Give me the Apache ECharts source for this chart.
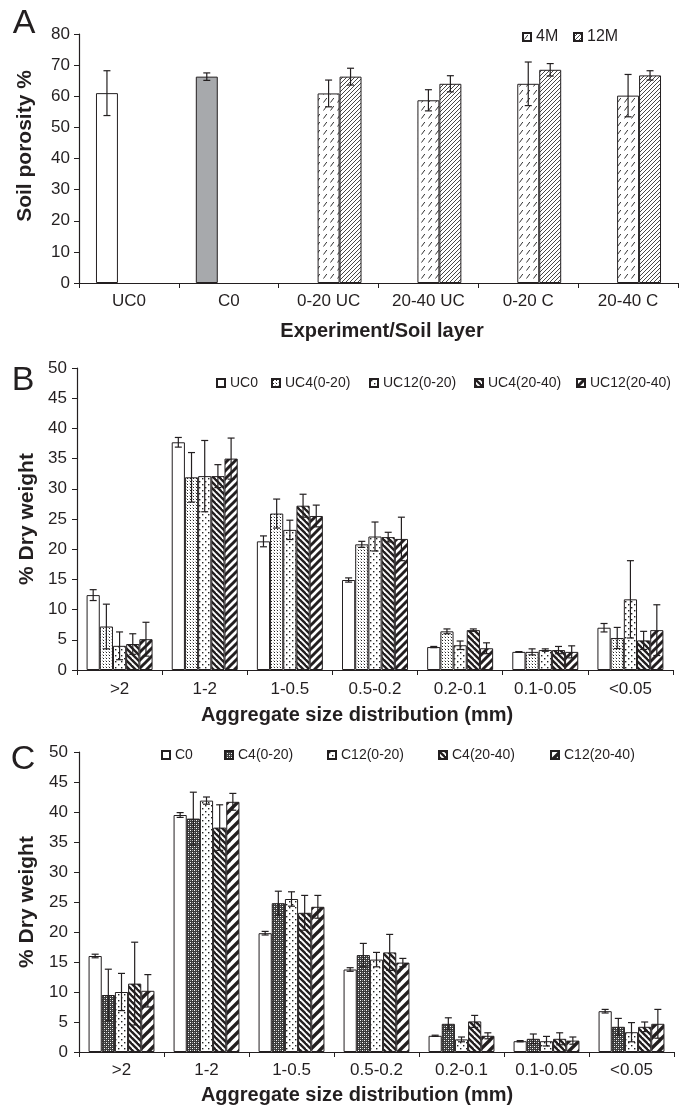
<!DOCTYPE html>
<html><head><meta charset="utf-8">
<script src="https://cdn.jsdelivr.net/npm/echarts@6/dist/echarts.min.js"></script>
<style>html,body{margin:0;padding:0;background:#fff}#c{width:686px;height:1108px}</style>
</head><body><div id="c"></div>
<script>
// ---------- DATA ----------
const catsA = ['UC0', 'C0', '0-20 UC', '20-40 UC', '0-20 C', '20-40 C'];
const baseA = [61.0, 66.3, null, null, null, null];
const baseErrA = [7.2, 1.2, null, null, null, null];
const m4A = [null, null, 60.9, 58.7, 64.0, 60.2];
const m4ErrA = [null, null, 4.3, 3.4, 7.0, 6.8];
const m12A = [null, null, 66.3, 64.0, 68.5, 66.7];
const m12ErrA = [null, null, 2.7, 2.6, 2.0, 1.5];
const ticksA = [0, 10, 20, 30, 40, 50, 60, 70, 80];

const catsSize = ['>2', '1-2', '1-0.5', '0.5-0.2', '0.2-0.1', '0.1-0.05', '<0.05'];
const ticksBC = [0, 5, 10, 15, 20, 25, 30, 35, 40, 45, 50];

const namesB = ['UC0', 'UC4(0-20)', 'UC12(0-20)', 'UC4(20-40)', 'UC12(20-40)'];
const uc0 = [12.4, 37.7, 21.3, 14.9, 3.8, 3.0, 7.0];
const uc0Err = [0.9, 0.8, 0.9, 0.35, 0.1, 0.05, 0.7];
const uc4a = [7.2, 31.9, 25.9, 20.8, 6.4, 3.0, 5.3];
const uc4aErr = [3.7, 4.1, 2.4, 0.5, 0.4, 0.5, 1.75];
const uc12a = [4.0, 32.1, 23.2, 22.1, 4.1, 3.3, 11.7];
const uc12aErr = [2.3, 5.9, 1.6, 2.4, 0.7, 0.2, 6.4];
const uc4b = [4.3, 32.1, 27.2, 22.0, 6.6, 3.3, 4.9];
const uc4bErr = [1.7, 1.9, 1.9, 0.8, 0.2, 0.6, 1.5];
const uc12b = [5.1, 35.0, 25.5, 21.7, 3.6, 3.0, 6.6];
const uc12bErr = [2.8, 3.4, 1.8, 3.6, 0.9, 1.0, 4.2];

const namesC = ['C0', 'C4(0-20)', 'C12(0-20)', 'C4(20-40)', 'C12(20-40)'];
const c0 = [16.0, 39.5, 19.8, 13.75, 2.7, 1.8, 6.8];
const c0Err = [0.3, 0.4, 0.3, 0.3, 0.1, 0.1, 0.3];
const c4a = [9.5, 38.9, 24.8, 16.15, 4.7, 2.2, 4.2];
const c4aErr = [4.3, 4.4, 2.0, 1.95, 1.0, 0.8, 1.4];
const c12a = [10.0, 41.9, 25.5, 15.4, 2.1, 1.8, 3.3];
const c12aErr = [3.1, 0.6, 1.2, 1.2, 0.4, 0.8, 1.6];
const c4b = [11.4, 37.4, 23.2, 16.6, 5.1, 2.2, 4.2];
const c4bErr = [6.9, 3.8, 2.9, 3.0, 1.0, 1.0, 0.8];
const c12b = [10.2, 41.7, 24.2, 14.9, 2.7, 1.9, 4.7];
const c12bErr = [2.7, 1.4, 1.9, 0.7, 0.5, 0.6, 2.4];

// ---------- PATTERNS ----------
const INK = '#231f20';
function pat(w, h, draw, bg) {
  const c = document.createElement('canvas');
  c.width = w; c.height = h;
  const g = c.getContext('2d');
  g.fillStyle = bg || '#fff'; g.fillRect(0, 0, w, h);
  draw(g, w, h);
  return { image: c, repeat: 'repeat' };
}
function fwd(s, lw, col) {
  return pat(s, s, (g) => {
    g.strokeStyle = col || INK; g.lineWidth = lw;
    for (const o of [-s, 0, s]) { g.beginPath(); g.moveTo(o - s, 2 * s); g.lineTo(o + 2 * s, -s); g.stroke(); }
  });
}
function back(s, lw, col) {
  return pat(s, s, (g) => {
    g.strokeStyle = col || INK; g.lineWidth = lw;
    for (const o of [-s, 0, s]) { g.beginPath(); g.moveTo(o - s, -s); g.lineTo(o + 2 * s, 2 * s); g.stroke(); }
  });
}
const pDashSlash = pat(7, 8, (g) => { g.strokeStyle = '#333'; g.lineWidth = 1; g.beginPath(); g.moveTo(1.5, 6.5); g.lineTo(4.8, 2); g.stroke(); });
const pHatchA = fwd(4, 0.9, '#333');
const pDense = pat(3, 3, (g) => { g.fillStyle = '#222'; g.fillRect(1, 1, 1, 1); g.fillStyle = '#bbb'; g.fillRect(0, 0, 1, 1); });
const pSparse = pat(6, 6, (g) => { g.fillStyle = '#222'; g.fillRect(1, 1, 1.4, 1.4); g.fillRect(4, 4, 1.4, 1.4); });
const pCheck = pat(4, 4, (g) => { g.fillStyle = '#fff'; g.fillRect(0, 0, 1, 1); g.fillRect(2, 2, 1, 1); g.fillStyle = '#999'; g.fillRect(2, 0, 1, 1); g.fillRect(0, 2, 1, 1); }, '#3a3a3a');
const pBackB = back(6, 2.4);
const pFwdB = fwd(8, 3);
const pBackC = back(6, 2.4);
const pFwdC = fwd(10, 3.4);

// ---------- HELPERS ----------
const FONT = '"Liberation Sans", Arial, Helvetica, sans-serif';
const GAP_A = 0.34, GAP_BC = 0.225;

function barSeries(name, vals, color, gi, gap, extraData) {
  return {
    name, type: 'bar', xAxisIndex: gi, yAxisIndex: gi,
    barGap: '0%', barCategoryGap: (gap * 100) + '%',
    itemStyle: { color, borderColor: INK, borderWidth: 1 },
    data: extraData || vals.map(v => v == null ? '-' : v),
    animation: false
  };
}
function errSeries(gi, list, n, gap, cap) {
  const data = [];
  list.forEach((s, slot) => s.vals.forEach((v, i) => {
    if (v != null && s.err[i] != null) data.push([i, v, s.err[i], slot]);
  }));
  return {
    type: 'custom', xAxisIndex: gi, yAxisIndex: gi, z: 10, silent: true, animation: false,
    data, encode: { x: 0, y: 1 },
    renderItem: (params, api) => {
      const i = api.value(0), v = api.value(1), e = api.value(2), slot = api.value(3);
      const catW = api.size([1, 0])[0];
      const usable = catW * (1 - gap), bw = usable / n;
      const cx = api.coord([i, v])[0] - usable / 2 + bw * (slot + 0.5);
      const yT = api.coord([i, v + e])[1], yB = api.coord([i, Math.max(0, v - e)])[1];
      const st = { stroke: INK, lineWidth: 1.2 };
      return { type: 'group', children: [
        { type: 'line', shape: { x1: cx, y1: yT, x2: cx, y2: yB }, style: st },
        { type: 'line', shape: { x1: cx - cap, y1: yT, x2: cx + cap, y2: yT }, style: st },
        { type: 'line', shape: { x1: cx - cap, y1: yB, x2: cx + cap, y2: yB }, style: st }
      ] };
    }
  };
}
function xAx(gi, cats, fs, margin) {
  return {
    type: 'category', gridIndex: gi, data: cats,
    axisLine: { lineStyle: { color: INK, width: 1.2 } },
    axisTick: { show: true, length: 5, interval: 0, lineStyle: { color: INK } },
    axisLabel: { interval: 0, color: INK, fontSize: fs, fontFamily: FONT, margin }
  };
}
function yAx(gi, ticks, fs, margin) {
  return {
    type: 'value', gridIndex: gi, min: ticks[0], max: ticks[ticks.length - 1], interval: ticks[1] - ticks[0],
    splitLine: { show: false },
    axisLine: { show: true, lineStyle: { color: INK, width: 1.2 } },
    axisTick: { show: true, length: 5, lineStyle: { color: INK } },
    axisLabel: { color: INK, fontSize: fs, fontFamily: FONT, margin }
  };
}
function leg(name, left, top, fs) {
  return {
    data: [name], left, top, padding: 0, selectedMode: false, icon: 'rect',
    itemWidth: 8, itemHeight: 8, itemGap: 0,
    textStyle: { color: INK, fontSize: fs, fontFamily: FONT }
  };
}

// ---------- SERIES ----------
const colorsB = ['#fff', pDense, pSparse, pBackB, pFwdB];
const valsB = [uc0, uc4a, uc12a, uc4b, uc12b];
const errsB = [uc0Err, uc4aErr, uc12aErr, uc4bErr, uc12bErr];
const colorsC = ['#fff', pCheck, pSparse, pBackC, pFwdC];
const valsC = [c0, c4a, c12a, c4b, c12b];
const errsC = [c0Err, c4aErr, c12aErr, c4bErr, c12bErr];

const series = [];
series.push(barSeries('base', baseA, '#fff', 0, GAP_A,
  baseA.map((v, i) => v == null ? '-' : { value: v, itemStyle: { color: i === 1 ? '#a7a9ac' : '#fff' } })));
series.push(barSeries('4M', m4A, pDashSlash, 0, GAP_A));
series.push(barSeries('12M', m12A, pHatchA, 0, GAP_A));
series.push(errSeries(0, [{ vals: baseA, err: baseErrA }, { vals: m4A, err: m4ErrA }, { vals: m12A, err: m12ErrA }], 3, GAP_A, 3.5));
namesB.forEach((n, k) => series.push(barSeries(n, valsB[k], colorsB[k], 1, GAP_BC)));
series.push(errSeries(1, valsB.map((v, k) => ({ vals: v, err: errsB[k] })), 5, GAP_BC, 3.5));
namesC.forEach((n, k) => series.push(barSeries(n, valsC[k], colorsC[k], 2, GAP_BC)));
series.push(errSeries(2, valsC.map((v, k) => ({ vals: v, err: errsC[k] })), 5, GAP_BC, 3.5));

const legXB = [216, 271, 369, 474, 576];
const legXC = [161, 224, 327, 438, 550];
const legends = [leg('4M', 522, 29, 16), leg('12M', 573, 29, 16)];
namesB.forEach((n, k) => legends.push(leg(n, legXB[k], 376, 14)));
namesC.forEach((n, k) => legends.push(leg(n, legXC[k], 748, 14)));

function txt(text, x, y, size, bold, rot) {
  return {
    type: 'text', x, y, rotation: rot || 0, silent: true,
    style: { text, fill: INK, font: (bold ? 'bold ' : '') + size + 'px ' + FONT, textAlign: 'center', textVerticalAlign: 'middle' }
  };
}

const option = {
  animation: false,
  backgroundColor: '#fff',
  grid: [
    { left: 79, top: 34, width: 599, height: 249 },
    { left: 77, top: 368, width: 596, height: 302 },
    { left: 79, top: 752, width: 595, height: 300 }
  ],
  xAxis: [xAx(0, catsA, 17, 10), xAx(1, catsSize, 17, 11), xAx(2, catsSize, 17, 10)],
  yAxis: [yAx(0, ticksA, 17, 9), yAx(1, ticksBC, 17, 10), yAx(2, ticksBC, 17, 11)],
  legend: legends,
  series,
  graphic: [
    txt('A', 24, 24, 34, false),
    txt('B', 23, 381, 34, false),
    txt('C', 23, 760, 34, false),
    txt('Soil porosity %', 25, 146, 21, true, Math.PI / 2),
    txt('% Dry weight', 27, 519, 21, true, Math.PI / 2),
    txt('% Dry weight', 27, 902, 21, true, Math.PI / 2),
    txt('Experiment/Soil layer', 382, 331, 20, true),
    txt('Aggregate size distribution (mm)', 357, 715, 20, true),
    txt('Aggregate size distribution (mm)', 357, 1095, 20, true)
  ]
};
const chart = echarts.init(document.getElementById('c'), null, { renderer: 'canvas' });
chart.setOption(option);
</script>
</body></html>
